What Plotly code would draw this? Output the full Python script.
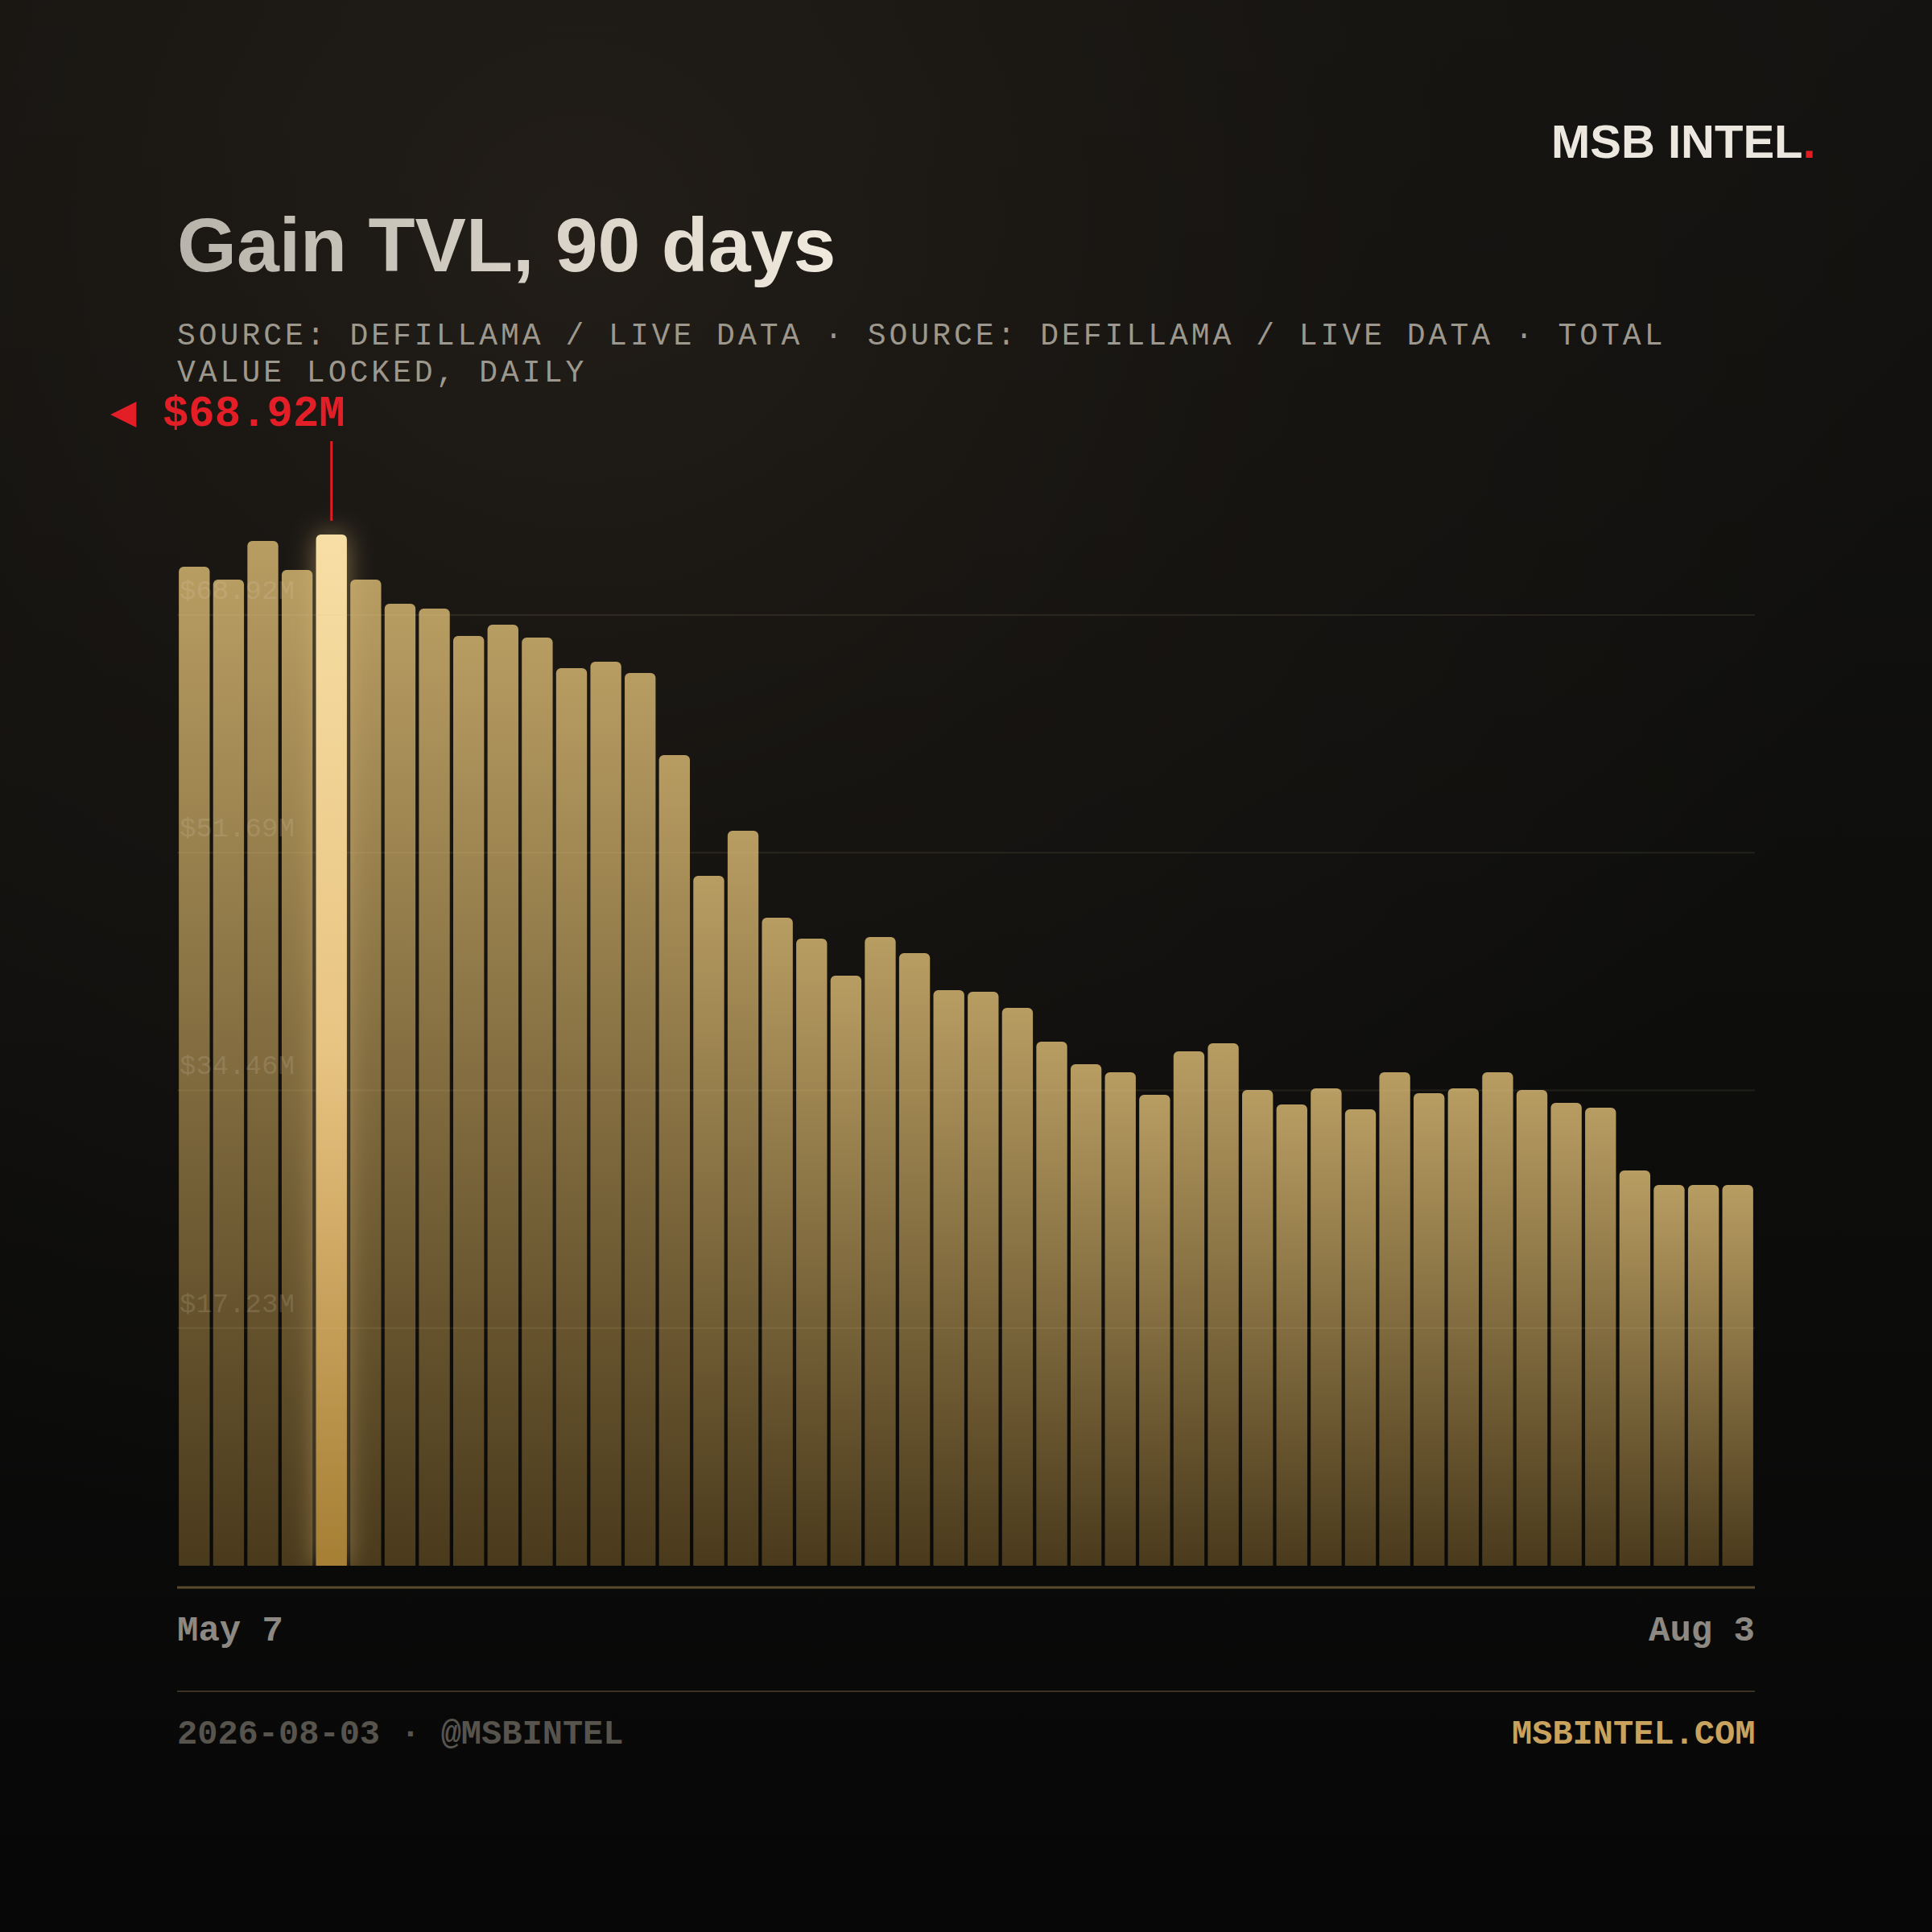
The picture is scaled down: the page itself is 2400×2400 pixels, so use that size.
import base64
import plotly.graph_objects as go

# ---------------- data ----------------
TVL_M = [66.77, 65.91, 68.49, 66.55, 68.92, 65.91, 64.29, 63.97, 62.14, 62.89,
         62.03, 59.99, 60.42, 59.67, 54.18, 46.11, 49.12, 43.31, 41.91, 39.44,
         42.02, 40.94, 38.47, 38.36, 37.28, 35.02, 33.52, 32.98, 31.47, 34.38,
         34.92, 31.80, 30.83, 31.90, 30.51, 32.98, 31.58, 31.90, 32.98, 31.80,
         30.94, 30.61, 26.42, 25.45, 25.45, 25.45]
DAY_INDEX = list(range(len(TVL_M)))
TICK_LABELS = ["$17.23M", "$34.46M", "$51.69M", "$68.92M"]
X_LABELS = ["May 7", "Aug 3"]
PEAK_LABEL = "◀ $68.92M"
TITLE = "Gain TVL, 90 days"
SUBTITLE_LINES = ["SOURCE: DEFILLAMA / LIVE DATA · SOURCE: DEFILLAMA / LIVE DATA · TOTAL",
                  "VALUE LOCKED, DAILY"]
FOOTER_LEFT = "2026-08-03 · @MSBINTEL"
FOOTER_RIGHT = "MSBINTEL.COM"
BRAND = "MSB INTEL"

# ---------------- geometry ----------------
W = H = 2400
L, R, T, B = 220, 220, 500, 455
PW, PH = W - L - R, H - T - B
PEAK_BAR_PX = 1281  # pixel height of the tallest bar
peak_val = max(TVL_M)
peak_idx = TVL_M.index(peak_val)
YMAX = peak_val * PH / PEAK_BAR_PX
GRID_FRAC = 0.2305
tick_vals = [peak_val * GRID_FRAC * (k + 1) for k in range(len(TICK_LABELS))]


def px_x(x):
    return (x - L) / PW


def px_y(y):
    return (H - B - y) / PH


MONO = "Liberation Mono, DejaVu Sans Mono, monospace"
SANS = "Liberation Sans, Arial, sans-serif"

fig = go.Figure()
fig.add_trace(go.Bar(
    x=DAY_INDEX, y=TVL_M,
    marker=dict(color=["#e8c482" if i == peak_idx else "#9c8250" for i in DAY_INDEX],
                cornerradius=6, line=dict(width=0)),
    hoverinfo="skip",
))

shapes = []
annotations = []

# gridlines (above bars) + labels
for v, lab in zip(tick_vals, TICK_LABELS):
    shapes.append(dict(type="line", xref="paper", x0=0, x1=1, yref="y", y0=v, y1=v,
                       line=dict(color="rgba(215,195,150,0.10)", width=2), layer="above"))
    annotations.append(dict(text=lab, xref="paper", x=0, xanchor="left", xshift=1,
                            yref="y", y=v, yanchor="middle", yshift=29, showarrow=False,
                            font=dict(family=MONO, size=34, color="rgba(232,222,205,0.16)")))

# axis baseline and footer separator
shapes.append(dict(type="line", xref="paper", x0=0, x1=1, yref="paper",
                   y0=px_y(1972), y1=px_y(1972), line=dict(color="#5a4a2e", width=3)))
shapes.append(dict(type="line", xref="paper", x0=0, x1=1, yref="paper",
                   y0=px_y(2101), y1=px_y(2101), line=dict(color="#3a3122", width=2)))

# peak marker line
shapes.append(dict(type="line", xref="x", x0=peak_idx, x1=peak_idx, yref="y",
                   ysizemode="pixel", yanchor=peak_val, y0=17, y1=116,
                   line=dict(color="#e31b23", width=3)))

# peak label
annotations.append(dict(text=PEAK_LABEL, xref="x", x=peak_idx, xanchor="right", xshift=19,
                        yref="y", y=peak_val, yanchor="middle", yshift=150, showarrow=False,
                        font=dict(family=MONO, size=54, color="#e41e26", weight=700)))

# title
title_index = len(annotations)
annotations.append(dict(text=TITLE, xref="paper", x=0, xanchor="left", xshift=-2,
                        yref="paper", y=px_y(304), yanchor="middle", showarrow=False,
                        font=dict(family=SANS, size=95, color="#ddd6ca", weight=700)))

# subtitle lines
for i, line in enumerate(SUBTITLE_LINES):
    annotations.append(dict(text=f"<span style='letter-spacing:4px'>{line}</span>",
                            xref="paper", x=0, xanchor="left", xshift=-2,
                            yref="paper", y=px_y(417 + 46 * i), yanchor="middle", showarrow=False,
                            font=dict(family=MONO, size=38, color="#9d988d")))

# brand
annotations.append(dict(text=f"{BRAND}<span style='color:#e31b23'>.</span>",
                        xref="paper", x=px_x(2258), xanchor="right",
                        yref="paper", y=px_y(176), yanchor="middle", showarrow=False,
                        font=dict(family=SANS, size=58, color="#ede8df", weight=700)))

# x labels
annotations.append(dict(text=X_LABELS[0], xref="paper", x=0, xanchor="left", xshift=-2,
                        yref="paper", y=px_y(2026), yanchor="middle", showarrow=False,
                        font=dict(family=MONO, size=44, color="#8d8982", weight=700)))
annotations.append(dict(text=X_LABELS[1], xref="paper", x=1, xanchor="right", xshift=2,
                        yref="paper", y=px_y(2026), yanchor="middle", showarrow=False,
                        font=dict(family=MONO, size=44, color="#8d8982", weight=700)))

# footer
annotations.append(dict(text=FOOTER_LEFT, xref="paper", x=0, xanchor="left", xshift=-2,
                        yref="paper", y=px_y(2155), yanchor="middle", showarrow=False,
                        font=dict(family=MONO, size=42, color="#57534d", weight=700)))
annotations.append(dict(text=FOOTER_RIGHT, xref="paper", x=1, xanchor="right", xshift=2,
                        yref="paper", y=px_y(2155), yanchor="middle", showarrow=False,
                        font=dict(family=MONO, size=42, color="#c9a25e", weight=700)))

# background gradient image
bg_svg = (
    '<svg xmlns="http://www.w3.org/2000/svg" width="2400" height="2400">'
    '<defs>'
    '<linearGradient id="a" x1="0" y1="0" x2="0" y2="1">'
    '<stop offset="0" stop-color="#141311"/><stop offset="0.5" stop-color="#0e0e0d"/>'
    '<stop offset="1" stop-color="#070707"/></linearGradient>'
    '<radialGradient id="b" cx="0.3" cy="0.12" r="0.7">'
    '<stop offset="0" stop-color="#27211a" stop-opacity="0.75"/>'
    '<stop offset="0.6" stop-color="#1e1a15" stop-opacity="0.35"/>'
    '<stop offset="1" stop-color="#1e1a15" stop-opacity="0"/></radialGradient>'
    '</defs>'
    '<rect width="2400" height="2400" fill="url(#a)"/>'
    '<rect width="2400" height="2400" fill="url(#b)"/>'
    '</svg>'
)
bg_src = "data:image/svg+xml;base64," + base64.b64encode(bg_svg.encode()).decode()

fig.update_layout(
    width=W, height=H, autosize=False,
    margin=dict(l=L, r=R, t=T, b=B, pad=0),
    paper_bgcolor="#0b0b0a", plot_bgcolor="rgba(0,0,0,0)",
    bargap=0.1, showlegend=False,
    xaxis=dict(range=[-0.5, len(TVL_M) - 0.5], visible=False, fixedrange=True),
    yaxis=dict(range=[0, YMAX], visible=False, fixedrange=True),
    shapes=shapes, annotations=annotations,
    images=[dict(source=bg_src, xref="paper", yref="paper", x=px_x(0), y=px_y(0),
                 sizex=W / PW, sizey=H / PH, sizing="stretch", xanchor="left",
                 yanchor="top", layer="below")],
)

post_js = """
(function(){
  document.body.style.margin = '0';
  document.body.style.background = '#080808';
  var gd = document.getElementById('{plot_id}');
  var NS = 'http://www.w3.org/2000/svg';
  var svg = gd.querySelector('svg.main-svg');
  var defs = document.createElementNS(NS, 'defs');
  svg.insertBefore(defs, svg.firstChild);
  function lin(id, stops, horiz) {
    var g = document.createElementNS(NS, 'linearGradient');
    g.setAttribute('id', id);
    g.setAttribute('x1', '0'); g.setAttribute('y1', '0');
    g.setAttribute('x2', horiz ? '1' : '0'); g.setAttribute('y2', horiz ? '0' : '1');
    stops.forEach(function(s){
      var st = document.createElementNS(NS, 'stop');
      st.setAttribute('offset', s[0]); st.setAttribute('stop-color', s[1]);
      g.appendChild(st);
    });
    defs.appendChild(g);
  }
  lin('gBar', [[0, '#b89d62'], [1, '#4a3a1c']], false);
  lin('gPeak', [[0, '#f7dea4'], [0.5, '#e8c482'], [1, '#a67e34']], false);
  lin('gTitle', [[0, '#b8b4ab'], [1, '#f0e9dd']], true);
  var f = document.createElementNS(NS, 'filter');
  f.setAttribute('id', 'fGlow');
  f.setAttribute('x', '-150%'); f.setAttribute('y', '-8%');
  f.setAttribute('width', '400%'); f.setAttribute('height', '116%');
  f.innerHTML = '<feGaussianBlur in="SourceAlpha" stdDeviation="16" result="b"/>' +
    '<feFlood flood-color="#e6c07a" flood-opacity="0.5"/>' +
    '<feComposite in2="b" operator="in" result="g"/>' +
    '<feMerge><feMergeNode in="g"/><feMergeNode in="SourceGraphic"/></feMerge>';
  defs.appendChild(f);
  var pts = gd.querySelectorAll('.barlayer .point');
  pts.forEach(function(pt, i){
    var p = pt.querySelector('path');
    if (!p) return;
    if (i === PEAK_IDX) { p.style.fill = 'url(#gPeak)'; p.setAttribute('filter', 'url(#fGlow)'); }
    else { p.style.fill = 'url(#gBar)'; }
  });
  if (pts[PEAK_IDX]) { pts[PEAK_IDX].parentNode.appendChild(pts[PEAK_IDX]); }
  var t = gd.querySelector('.annotation[data-index="TITLE_IDX"] .annotation-text');
  if (t) { t.style.fill = 'url(#gTitle)'; }
})();
""".replace("PEAK_IDX", str(peak_idx)).replace("TITLE_IDX", str(title_index))

fig.write_html("out.html", include_plotlyjs=True, post_script=post_js,
               config={"displayModeBar": False, "responsive": False})
